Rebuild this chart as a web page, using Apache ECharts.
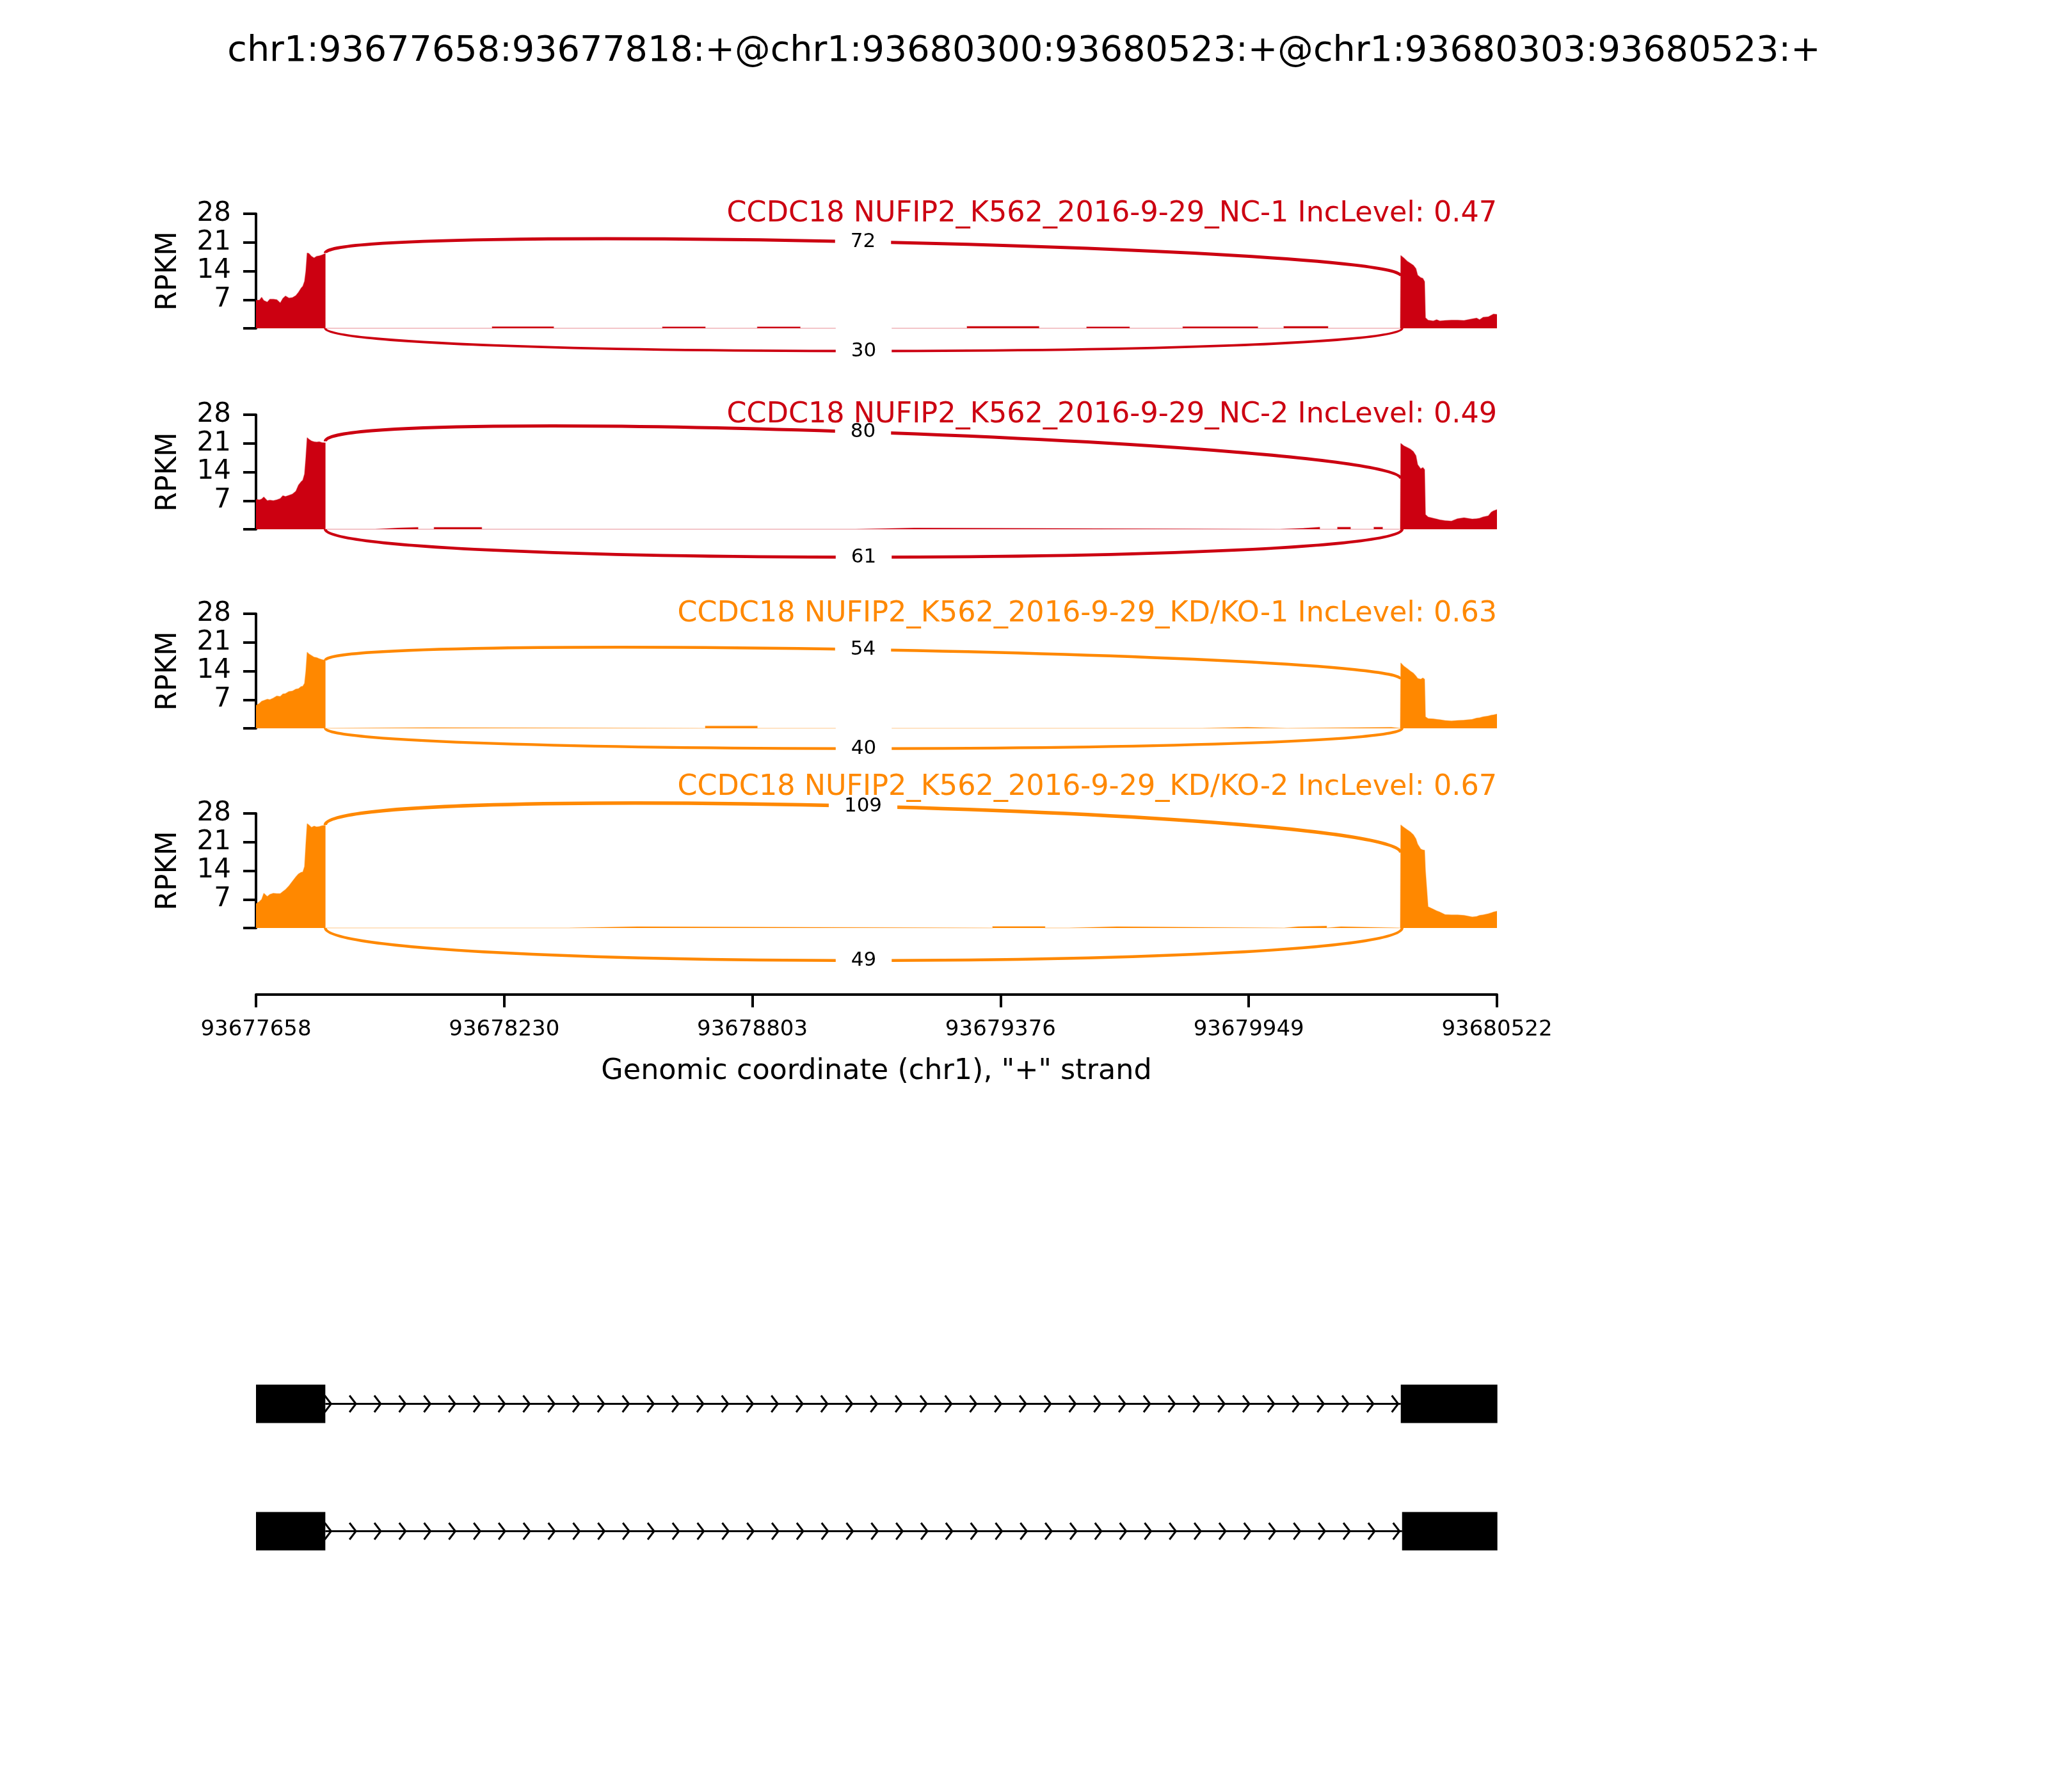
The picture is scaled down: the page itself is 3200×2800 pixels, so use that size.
<!DOCTYPE html>
<html>
<head>
<meta charset="utf-8">
<script src="https://cdn.jsdelivr.net/npm/echarts@6/dist/echarts.min.js"></script>
<style>html,body{margin:0;padding:0;background:#fff}#c{width:3200px;height:2800px}</style>
</head>
<body>
<div id="c"></div>
<script>
// ---------------- data ----------------
const REGION_START = 93677658;          // genomic coordinate of x = 0
const REGION_END = 93680522;
const titleText = 'chr1:93677658:93677818:+@chr1:93680300:93680523:+@chr1:93680303:93680523:+';
const xAxisTitle = 'Genomic coordinate (chr1), "+" strand';
const xTickLabels = ['93677658', '93678230', '93678803', '93679376', '93679949', '93680522'];
const yTickValues = [0, 7, 14, 21, 28];

const sampleLabels = [
  'CCDC18 NUFIP2_K562_2016-9-29_NC-1 IncLevel: 0.47',
  'CCDC18 NUFIP2_K562_2016-9-29_NC-2 IncLevel: 0.49',
  'CCDC18 NUFIP2_K562_2016-9-29_KD/KO-1 IncLevel: 0.63',
  'CCDC18 NUFIP2_K562_2016-9-29_KD/KO-2 IncLevel: 0.67'
];
const sampleColors = ['#CC0011', '#CC0011', '#FF8800', '#FF8800'];

// coverage positions (bp offset from REGION_START)
const exon1Pos = [0, 8, 13, 18, 26, 32, 40, 48, 56, 62, 68, 76, 84, 92, 98, 104, 108, 112, 115, 118, 122, 128, 134, 140, 146, 152, 160];
const exon2Pos = [2642, 2644, 2649, 2657, 2664, 2671, 2677, 2681, 2688, 2693, 2697, 2699, 2705, 2717, 2725, 2732, 2744, 2759, 2773, 2788, 2807, 2817, 2824, 2832, 2844, 2851, 2856, 2864];

// RPKM over exon 1
const nc1Exon1 = [6.9, 6.9, 7.6, 6.8, 6.4, 7.1, 7.1, 7.0, 6.2, 7.3, 7.9, 7.4, 7.5, 8.0, 8.8, 9.8, 10.3, 11.5, 14.0, 18.4, 18.3, 17.6, 17.2, 17.6, 17.7, 17.9, 18.3];
const nc2Exon1 = [7.3, 7.2, 7.4, 7.9, 7.0, 7.1, 7.0, 7.2, 7.5, 8.2, 8.0, 8.3, 8.6, 9.3, 10.8, 11.6, 12.0, 13.5, 17.5, 22.4, 22.0, 21.6, 21.4, 21.3, 21.4, 21.2, 21.1];
const kd1Exon1 = [5.6, 6.1, 6.6, 6.8, 7.1, 7.0, 7.4, 7.9, 7.8, 8.4, 8.5, 9.0, 9.1, 9.6, 9.7, 10.2, 10.3, 11.0, 14.0, 18.6, 18.2, 17.8, 17.4, 17.3, 17.0, 16.8, 16.6];
const kd2Exon1 = [5.9, 6.5, 7.0, 8.5, 7.7, 8.2, 8.5, 8.4, 8.4, 8.9, 9.4, 10.3, 11.4, 12.5, 13.2, 13.6, 13.7, 15.0, 20.5, 25.5, 25.2, 24.6, 24.9, 24.7, 24.8, 25.0, 25.1];

// RPKM over exon 2
const nc1Exon2 = [17.8, 17.8, 17.2, 16.4, 15.9, 15.4, 14.6, 13.0, 12.4, 12.2, 11.4, 2.6, 2.0, 1.8, 2.1, 1.8, 1.9, 2.0, 2.0, 1.9, 2.3, 2.5, 2.1, 2.7, 2.8, 3.2, 3.5, 3.4];
const nc2Exon2 = [21.0, 21.0, 20.4, 20.0, 19.6, 19.0, 18.0, 15.8, 14.8, 15.1, 14.6, 3.6, 3.0, 2.7, 2.5, 2.3, 2.1, 2.0, 2.6, 2.8, 2.5, 2.6, 2.7, 3.0, 3.3, 4.2, 4.5, 4.8];
const kd1Exon2 = [16.0, 15.8, 15.2, 14.6, 14.0, 13.5, 12.8, 12.2, 12.0, 12.3, 12.0, 2.8, 2.4, 2.3, 2.2, 2.1, 1.9, 1.8, 1.9, 2.0, 2.2, 2.5, 2.6, 2.8, 3.0, 3.2, 3.3, 3.5];
const kd2Exon2 = [25.2, 25.2, 24.6, 24.0, 23.5, 22.8, 21.8, 20.5, 19.3, 19.1, 19.0, 14.0, 5.2, 4.6, 4.2, 3.9, 3.3, 3.2, 3.2, 3.1, 2.7, 2.8, 3.1, 3.2, 3.5, 3.7, 3.9, 4.1];

// low intronic coverage: [startOffset, endOffset, RPKM]
const nc1Intron = [[545, 687, 0.4], [938, 1037, 0.35], [1157, 1256, 0.35], [1641, 1807, 0.45], [1917, 2016, 0.35], [2139, 2312, 0.4], [2372, 2474, 0.45]];
const nc2Intron = [[275, 328, 0.3], [329, 374, 0.45], [411, 521, 0.45], [1384, 1520, 0.3], [2363, 2418, 0.25], [2419, 2455, 0.5], [2496, 2526, 0.5], [2580, 2600, 0.5]];
const kd1Intron = [[161, 400, 0.15], [1037, 1157, 0.55], [2183, 2288, 0.25], [2379, 2620, 0.25]];
const kd2Intron = [[721, 880, 0.3], [1700, 1821, 0.35], [1876, 1987, 0.3], [2373, 2405, 0.3], [2406, 2471, 0.45], [2472, 2504, 0.3]];

// junctions (upper arc, lower arc)
const junctionStarts = [93677818, 93677818];
const junctionEnds = [93680300, 93680303];
const upperCounts = [72, 80, 54, 109];
const lowerCounts = [30, 61, 40, 49];
const arcLeftRPKM = [18.4, 21.5, 16.6, 25.2];
const arcRightRPKM = [12.8, 12.4, 12.0, 18.4];
const arcHeightRPKM = [7.4, 9.1, 6.6, 10.6];

// transcript models
const transcriptExons = [
  [[93677658, 93677818], [93680300, 93680523]],
  [[93677658, 93677818], [93680303, 93680523]]
];

// ---------------- layout ----------------
const FONT = 'DejaVu Sans';
const PLOT_LEFT = 400, PLOT_RIGHT = 2339, W = 3200;
const PANEL_TOPS = [334, 648, 959, 1271];
const PANEL_H = 179;

const exon1Sets = [nc1Exon1, nc2Exon1, kd1Exon1, kd2Exon1];
const exon2Sets = [nc1Exon2, nc2Exon2, kd1Exon2, kd2Exon2];
const intronSets = [nc1Intron, nc2Intron, kd1Intron, kd2Intron];
const X_MAX = REGION_END - REGION_START;
const X_INTERVAL = X_MAX / (xTickLabels.length - 1);

function coverageData(i) {
  const d = [];
  exon1Pos.forEach((p, k) => d.push([p, exon1Sets[i][k]]));
  d.push([exon1Pos[exon1Pos.length - 1], 0]);
  intronSets[i].forEach(s => { d.push([s[0], 0], [s[0], s[2]], [s[1], s[2]], [s[1], 0]); });
  d.push([exon2Pos[0] - 1, 0]);
  exon2Pos.forEach((p, k) => d.push([p, exon2Sets[i][k]]));
  return d;
}

const grids = [], xAxes = [], yAxes = [], series = [], titles = [];
titles.push({ text: titleText, left: 'center', top: 53, padding: 0,
  textStyle: { fontSize: 55.6, fontWeight: 'normal', fontFamily: FONT, color: '#000' } });

for (let i = 0; i < 4; i++) {
  grids.push({ left: PLOT_LEFT, right: W - PLOT_RIGHT, top: PANEL_TOPS[i], height: PANEL_H });
  const last = i === 3;
  xAxes.push({
    gridIndex: i, type: 'value', min: 0, max: X_MAX, interval: X_INTERVAL,
    show: last, position: 'bottom', offset: 104,
    axisLine: { show: last, onZero: false, lineStyle: { color: '#000', width: 4 } },
    axisTick: { show: last, length: 20, lineStyle: { color: '#000', width: 4 } },
    axisLabel: { show: last, margin: 38, fontSize: 34, fontFamily: FONT, color: '#000',
      formatter: v => xTickLabels[Math.round(v / X_INTERVAL)] },
    splitLine: { show: false },
    name: last ? xAxisTitle : '', nameLocation: 'middle', nameGap: 98,
    nameTextStyle: { fontSize: 44.5, fontFamily: FONT, color: '#000' }
  });
  yAxes.push({
    gridIndex: i, type: 'value', min: yTickValues[0], max: yTickValues[yTickValues.length - 1],
    interval: yTickValues[1] - yTickValues[0],
    axisLine: { show: true, lineStyle: { color: '#000', width: 4 } },
    axisTick: { show: true, length: 20, lineStyle: { color: '#000', width: 4 } },
    axisLabel: { margin: 39, fontSize: 42, fontFamily: FONT, color: '#000',
      formatter: v => (v === 0 ? '' : String(v)) },
    splitLine: { show: false },
    name: 'RPKM', nameLocation: 'middle', nameRotate: 90, nameGap: 114,
    nameTextStyle: { fontSize: 44, fontFamily: FONT, color: '#000' }
  });
  titles.push({ text: sampleLabels[i], right: W - PLOT_RIGHT, top: (i === 3 ? 1208 : PANEL_TOPS[i] - 22), padding: 0,
    textStyle: { fontSize: 44.5, fontWeight: 'normal', fontFamily: FONT, color: sampleColors[i] } });

  series.push({
    type: 'line', xAxisIndex: i, yAxisIndex: i, data: coverageData(i),
    symbol: 'none', showSymbol: false, silent: true, animation: false,
    lineStyle: { width: 1.5, color: sampleColors[i], opacity: 0.35 },
    areaStyle: { color: sampleColors[i], opacity: 1 }, z: 2
  });

  const S = REGION_START;
  series.push({
    type: 'custom', xAxisIndex: i, yAxisIndex: i, animation: false, silent: true, clip: false, z: 5,
    data: [
      [junctionStarts[0] - S, junctionEnds[0] - S, arcLeftRPKM[i], arcRightRPKM[i], arcHeightRPKM[i], upperCounts[i], 1],
      [junctionStarts[1] - S, junctionEnds[1] - S, 0, 0, arcHeightRPKM[i], lowerCounts[i], -1]
    ],
    renderItem: (function (color) {
      return function (params, api) {
        const x1 = api.value(0), x2 = api.value(1), yL = api.value(2), yR = api.value(3);
        const h = api.value(4), cnt = api.value(5), side = api.value(6);
        let p0, p1, p2, p3;
        if (side > 0) {
          p0 = api.coord([x1, yL]); p1 = api.coord([x1, yL + h]);
          p2 = api.coord([x2, yR + h]); p3 = api.coord([x2, yR]);
        } else {
          p0 = api.coord([x1, 0]); p1 = api.coord([x1, -h]);
          p2 = api.coord([x2, -h]); p3 = api.coord([x2, 0]);
        }
        const mx = (p0[0] + 3 * p1[0] + 3 * p2[0] + p3[0]) / 8;
        const my = (p0[1] + 3 * p1[1] + 3 * p2[1] + p3[1]) / 8;
        return {
          type: 'group',
          children: [
            { type: 'bezierCurve',
              shape: { x1: p0[0], y1: p0[1], cpx1: p1[0], cpy1: p1[1], cpx2: p2[0], cpy2: p2[1], x2: p3[0], y2: p3[1] },
              style: { stroke: color, fill: null, lineWidth: 1.15 * Math.log(cnt + 1) } },
            { type: 'text', x: mx, y: my, z2: 10,
              style: { text: String(cnt), fill: '#000', fontSize: 31, fontFamily: FONT,
                align: 'center', verticalAlign: 'middle', backgroundColor: '#fff',
                padding: [20, 24], lineHeight: 38 } }
          ]
        };
      };
    })(sampleColors[i])
  });
}

// gene model grid
grids.push({ left: PLOT_LEFT, right: W - PLOT_RIGHT, top: 2094, height: 398 });
xAxes.push({ gridIndex: 4, type: 'value', min: 0, max: X_MAX, show: false });
yAxes.push({ gridIndex: 4, type: 'category', data: transcriptExons.map((t, k) => 'tx' + k), inverse: true, show: false });
series.push({
  type: 'custom', xAxisIndex: 4, yAxisIndex: 4, animation: false, silent: true, clip: false,
  data: transcriptExons.map((t, k) => [k]),
  encode: { y: 0 },
  renderItem: function (params, api) {
    const ti = api.value(0);
    const exons = transcriptExons[ti];
    const S = REGION_START;
    const cy = api.coord([0, ti])[1];
    const children = [];
    for (let k = 0; k < exons.length - 1; k++) {
      const xa = api.coord([exons[k][1] - S, ti])[0];
      const xb = api.coord([exons[k + 1][0] - S, ti])[0];
      children.push({ type: 'line', shape: { x1: xa, y1: cy, x2: xb, y2: cy }, style: { stroke: '#000', lineWidth: 2.8 } });
      const a = xa + 9, b = xb - 4;
      const n = Math.max(1, Math.round((b - a) / 38.8));
      const step = (b - a) / n;
      for (let j = 0; j <= n; j++) {
        const tip = a + j * step;
        children.push({ type: 'polyline', shape: { points: [[tip - 10, cy - 13], [tip, cy], [tip - 10, cy + 13]] },
          style: { stroke: '#000', fill: null, lineWidth: 3 } });
      }
    }
    exons.forEach(e => {
      const xs = api.coord([e[0] - S, ti])[0], xe = api.coord([e[1] - S, ti])[0];
      children.push({ type: 'rect', shape: { x: xs, y: cy - 30, width: xe - xs, height: 60 }, style: { fill: '#000' }, z2: 5 });
    });
    return { type: 'group', children: children };
  }
});

const chart = echarts.init(document.getElementById('c'), null, { renderer: 'canvas', width: 3200, height: 2800 });
chart.setOption({
  backgroundColor: '#fff',
  animation: false,
  textStyle: { fontFamily: FONT },
  title: titles,
  grid: grids,
  xAxis: xAxes,
  yAxis: yAxes,
  series: series
});
</script>
</body>
</html>
